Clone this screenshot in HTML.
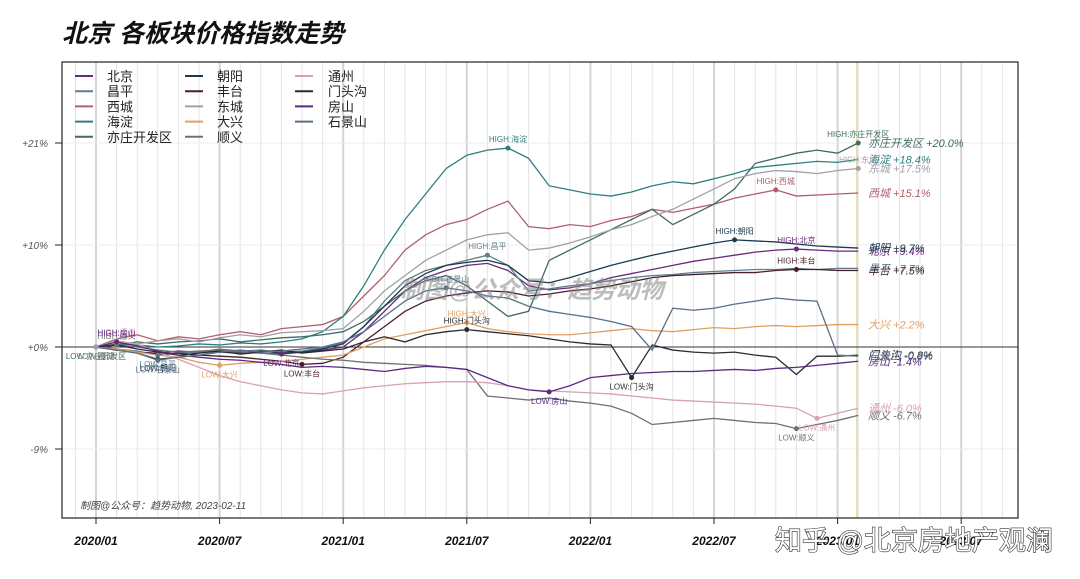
<!DOCTYPE html>
<html><head><meta charset="utf-8"><style>
html,body{margin:0;padding:0;background:#fff;width:1080px;height:579px;overflow:hidden}
svg text{font-family:"Liberation Sans","Noto Sans CJK SC",sans-serif}
</style></head><body>
<svg id="chart" width="1080" height="579" viewBox="0 0 1080 579" xmlns="http://www.w3.org/2000/svg">
<text x="62" y="42" font-size="25" font-weight="bold" font-style="italic" fill="#111">北京 各板块价格指数走势</text>
<g id="grid"></g>
<g id="series"></g>
<g id="marks"></g>
<rect x="62" y="62" width="956" height="456" fill="none" stroke="#222" stroke-width="1.2"/>
<g id="axes"></g>
<g id="legend"></g>
<text x="400" y="298" font-size="24" font-weight="bold" font-style="italic" fill="#888" opacity="0.55">制图@公众号：趋势动物</text>
<text x="80" y="509" font-size="10" font-style="italic" fill="#444">制图@公众号：趋势动物, 2023-02-11</text>
<text x="775" y="550" font-size="27" fill="#fff" stroke="#333" stroke-width="1.2" paint-order="stroke">知乎 @北京房地产观澜</text>
</svg>
<script>
const names=["北京","昌平","西城","海淀","亦庄开发区","朝阳","丰台","东城","大兴","顺义","通州","门头沟","房山","石景山"];
const colors=["#6a2a7a","#5f7f8f","#b0606a","#2e7f80","#3e6b63","#1d3b4f","#4a1e2a","#a0a0a8","#e0a060","#707070","#d8a0b8","#2a2a33","#5a2a80","#5a6f88"];
const xTickLabels=["2020/01","2020/07","2021/01","2021/07","2022/01","2022/07","2023/01","2023/07"];
const yTickValues=[20,10,0,-10];
const yTickLabels=["+21%","+10%","+0%","-9%"];
const sBeijing=[0,-.2,-.5,-.6,-.4,-.5,-.3,-.5,-.6,-.7,-.5,-.3,0,1.5,3.5,5.5,6.8,7.5,8,8.2,7.5,6,5.6,5.8,6.2,6.8,7.2,7.6,8,8.4,8.7,9,9.3,9.5,9.6,9.5,9.4,9.4];
const sChangping=[0,-.2,-.4,-.8,-.6,-.5,-.2,-.4,-.3,-.5,-.4,-.1,.4,2,4.5,6.5,7.5,8,8.5,9,8,5.5,5.7,6,6.2,6.5,6.8,7,7.1,7.3,7.4,7.5,7.6,7.6,7.7,7.6,7.7,7.7];
const sXicheng=[0,.8,1.2,.6,1,.8,1.2,1.5,1.2,1.8,2,2.2,3,5,7,9.5,11,12,12.5,13.5,14.3,11.8,11.6,12,11.8,12.4,12.8,13.5,13.2,13.6,14,14.6,15,15.4,14.8,14.9,15,15.1];
const sHaidian=[0,.3,.2,0,.1,.3,.2,.4,.3,.5,.8,1.5,3,6,9.5,12.5,15,17.5,18.8,19.3,19.5,18.5,15.8,15.4,15,14.8,15.2,15.8,16.2,16,16.5,17,17.6,17.8,18,18.2,18.1,18.4];
const sYizhuang=[0,.2,.5,.3,.5,.6,.8,.5,.7,.9,1,1.2,1.5,2.5,4,5.5,6.5,7,6,4.5,3,3.5,8.5,9.5,10.5,11.5,12.5,13.5,12,13,14,15.5,18,18.5,19,19.3,19,20];
const sChaoyang=[0,-.3,-.6,-1.2,-1,-.8,-.5,-.6,-.4,-.6,-.5,-.2,.3,2,4,6,7.2,8,8.3,8.5,8,6.5,6.3,6.8,7.4,8,8.5,9,9.4,9.8,10.2,10.5,10.4,10.3,10.1,9.9,9.8,9.7];
const sFengtai=[0,-.3,-.5,-.7,-.6,-.8,-.9,-1,-1.2,-1.4,-1.7,-1.6,-1,.5,2,3.5,4.5,5,5.3,5.5,5.4,5,5.2,5.5,5.7,6,6.4,6.8,7,7.1,7.2,7.3,7.3,7.5,7.6,7.6,7.5,7.5];
const sDongcheng=[0,.5,.3,.6,.8,.5,.9,1.2,1,1.4,1.5,1.6,1.8,3.5,5.5,7,8.5,9.5,10.5,11,11.2,9.5,9.7,10.2,10.8,11.5,12,12.8,13.5,14.5,15.5,16.5,17,17.3,17.2,17,17.3,17.5];
const sDaxing=[0,-.2,-.5,-.8,-1,-1.5,-1.8,-1.6,-1.5,-1.4,-1.2,-1,-.8,0,.8,1.2,1.6,2,2.4,1.8,1.5,1.3,1.2,1.2,1.4,1.6,1.8,1.6,1.5,1.7,1.9,1.8,2,2.1,2,2.1,2.2,2.2];
const sShunyi=[0,.2,0,-.3,-.5,-.4,-.3,-.5,-.6,-.8,-1,-1.2,-1.3,-1.5,-1.6,-1.7,-1.8,-2,-2.2,-4.8,-5,-5.2,-5,-5.3,-5.5,-5.8,-6.5,-7.6,-7.4,-7.2,-7,-7.2,-7.4,-7.5,-8,-7.6,-7.2,-6.7];
const sTongzhou=[0,.6,.3,-.5,-1.2,-2,-2.8,-3.4,-3.8,-4.2,-4.5,-4.6,-4.3,-4,-3.8,-3.6,-3.5,-3.4,-3.4,-3.5,-3.8,-4.2,-4.3,-4.4,-4.5,-4.6,-4.8,-5,-5.2,-5.3,-5.4,-5.5,-5.6,-5.8,-6,-7,-6.5,-6];
const sMentougou=[0,.2,-.2,-.5,-.8,-.6,-.4,-.7,-.5,-.3,-.6,-.4,-.2,.5,1,.5,1.2,1.5,1.7,1.5,1.3,1.1,.8,.5,.3,.2,-3,.2,-.3,-.5,-.6,-.5,-.8,-1,-2.7,-.9,-.9,-.8];
const sFangshan=[0,.5,.1,-.4,-.8,-1,-1.2,-1.3,-1.5,-1.7,-2,-1.9,-2,-2.2,-2.4,-2.1,-1.9,-2,-2.2,-3,-3.8,-4.2,-4.4,-3.8,-3,-2.8,-2.6,-2.5,-2.4,-2.4,-2.3,-2.2,-2.3,-2.1,-2,-1.8,-1.6,-1.4];
const sShijingshan=[0,-.3,-.6,-1.3,-1,-.8,-.5,-.3,-.5,-.4,-.2,0,.5,1.5,3,4.5,5.5,5.8,5.5,5,4.8,4,3.5,3.2,2.9,2.5,2,-.3,3.8,3.6,3.8,4.2,4.5,4.8,4.6,4.5,-.8,-.9];
const allSeries=[sBeijing,sChangping,sXicheng,sHaidian,sYizhuang,sChaoyang,sFengtai,sDongcheng,sDaxing,sShunyi,sTongzhou,sMentougou,sFangshan,sShijingshan];
const endLabelNames=["北京","昌平","西城","海淀","亦庄开发区","朝阳","丰台","东城","大兴","顺义","通州","门头沟","房山","石景山"];

const NS="http://www.w3.org/2000/svg";
const X=m=>96+m*20.6;
const Y=v=>347-v*10.2;
function mk(tag,attrs,parent,txt){const e=document.createElementNS(NS,tag);for(const k in attrs)e.setAttribute(k,attrs[k]);if(txt!==undefined)e.textContent=txt;parent.appendChild(e);return e;}
const grid=document.getElementById('grid'),ser=document.getElementById('series'),marks=document.getElementById('marks'),axes=document.getElementById('axes'),leg=document.getElementById('legend');
for(let m=-1;m<=45;m++){const x=X(m);if(x<63||x>1017)continue;
 const l=mk('line',{x1:x,x2:x,y1:62,y2:518,stroke:m%6===0?'#d4d4d4':'#e4e4e4','stroke-width':m%6===0?2:1},grid);
 
 }
yTickValues.forEach((v,i)=>{const g=mk('line',{x1:62,x2:1018,y1:Y(v),y2:Y(v),stroke:'#ececec'},grid);
 
 
 const t=mk('text',{x:48,y:Y(v)+4,'font-size':10,'font-style':'italic',fill:'#555','text-anchor':'end'},axes,yTickLabels[i]);
 
 
 const tk=mk('line',{x1:55,x2:62,y1:Y(v),y2:Y(v),stroke:'#222'},axes);
 
 });
const vl=mk('line',{x1:857,x2:857,y1:62,y2:518,stroke:'#e8dfb0','stroke-width':2},grid);


const zl=mk('line',{x1:62,x2:1018,y1:Y(0),y2:Y(0),stroke:'#333','stroke-width':1},grid);


xTickLabels.forEach((lab,i)=>{const x=X(i*6);
 const tk=mk('line',{x1:x,x2:x,y1:518,y2:524,stroke:'#222'},axes);
 
 
 const t=mk('text',{x:x,y:545,'font-size':12,'font-weight':'bold','font-style':'italic',fill:'#111','text-anchor':'middle'},axes,lab);
 
 });
allSeries.forEach((d,si)=>{
 const p=mk('polyline',{points:d.map((v,m)=>X(m)+','+Y(v)).join(' '),fill:'none',stroke:colors[si],'stroke-width':1.3},ser);
 
 
 let hi=0,lo=0;d.forEach((v,m)=>{if(v>d[hi])hi=m;if(v<d[lo])lo=m;});
 [[hi,'HIGH:',-6],[lo,'LOW:',12]].forEach(([m,pre,dy])=>{
  const c=mk('circle',{cx:X(m),cy:Y(d[m]),r:2.5,fill:colors[si]},marks);
  
  
  const t=mk('text',{x:X(m),y:Y(d[m])+dy,'font-size':8,fill:colors[si],'text-anchor':'middle'},marks,pre+names[si]);
  
  });
 const last=d[d.length-1];
 const el=mk('text',{x:868,y:Y(last)+4,'font-size':11,'font-style':'italic',fill:colors[si]},marks,endLabelNames[si]+' '+(last>=0?'+':'')+last.toFixed(1)+'%');
 
 
});
names.forEach((n,i)=>{const col=Math.floor(i/5),row=i%5;
 const lx=[75,185,295][col],ty=[107,217,328][col],y=76+row*15.2;
 const l=mk('line',{x1:lx,x2:lx+18,y1:y,y2:y,stroke:colors[i],'stroke-width':2},leg);
 
 
 const t=mk('text',{x:ty,y:y+5,'font-size':13,fill:'#222'},leg,n);
 
 });
</script>
</body></html>
